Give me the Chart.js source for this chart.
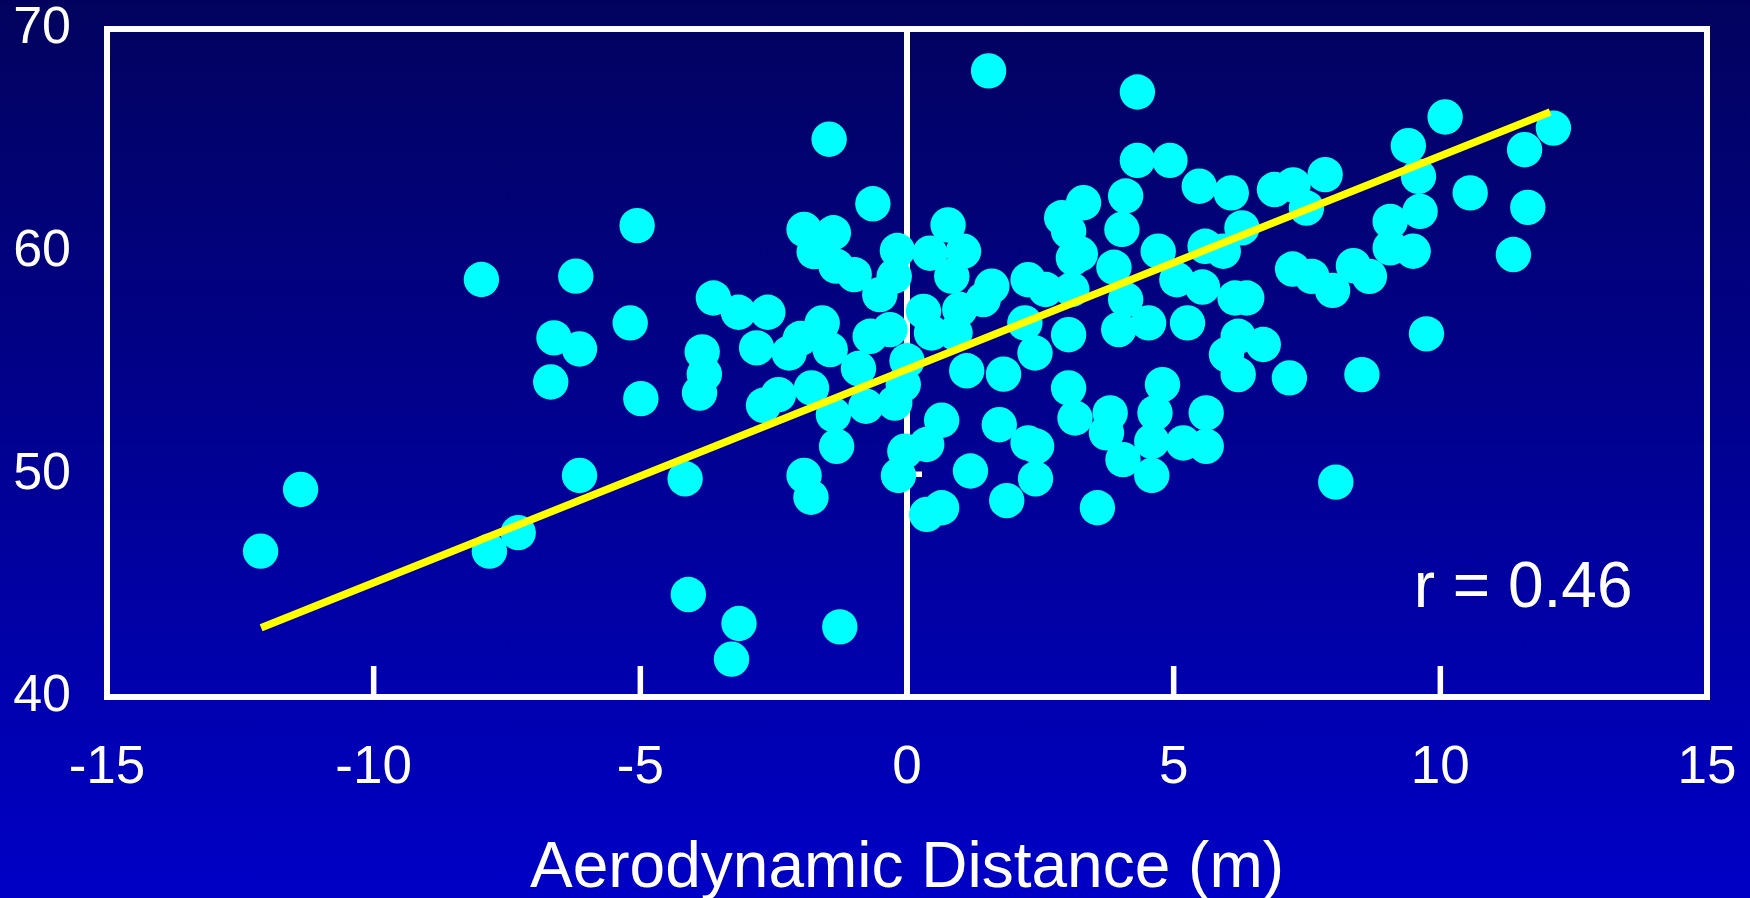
<!DOCTYPE html>
<html><head><meta charset="utf-8">
<script src="https://cdn.jsdelivr.net/npm/chart.js@4.4.0/dist/chart.umd.min.js"></script>
<style>
html,body{margin:0;padding:0;width:1750px;height:898px;overflow:hidden;background:linear-gradient(to bottom,#02025E 0%,#0000C6 100%);}
#wrap{position:relative;width:1750px;height:898px;}
canvas{display:block;}
</style></head><body><div id="wrap"><canvas id="c" width="1750" height="898"></canvas></div>
<script>
// Aerodynamic distance (m) of each point
const distanceX = [
 -12.12,-11.37,-7.98,-7.83,-7.29,-6.62,-6.68,-6.21,-6.14,-6.14,
 -5.19,-5.06,-4.99,-4.16,-4.10,-3.84,-3.80,-3.89,-3.63,-3.29,
 -3.15,-3.16,-2.82,-2.61,-2.69,-2.41,-2.21,-2.00,-1.93,-1.74,
 -1.93,-1.80,-1.79,-1.59,-1.46,-1.38,-1.44,-1.38,-1.32,-1.33,
 -1.26,-0.99,-0.91,-0.77,-0.64,-0.69,-0.51,-0.24,-0.32,-0.18,
 -0.23,-0.07,0.00,-0.16,-0.04,
 0.37,0.65,0.37,0.65,0.77,0.43,1.06,0.84,0.31,0.46,
 0.90,0.99,1.43,1.59,1.12,1.81,1.19,1.73,1.87,1.53,
 2.27,2.60,2.21,2.40,2.27,2.43,2.41,2.90,3.31,3.03,
 3.12,3.25,3.09,3.03,3.03,3.15,3.57,3.81,3.74,3.88,
 4.03,4.10,4.10,3.97,4.05,4.32,4.32,4.93,4.71,4.53,
 4.79,4.65,4.59,4.59,5.06,5.26,5.18,5.48,5.59,5.54,
 5.61,5.61,5.93,6.08,6.28,6.15,6.37,5.99,6.21,6.21,
 6.68,6.89,7.24,7.49,7.84,7.23,7.59,7.98,8.37,8.67,
 7.17,8.53,8.04,9.06,9.06,9.49,9.40,9.59,9.62,9.74,
 10.09,10.56,11.37,11.58,11.64,12.12
];
// Measured value of each point
const valueY = [
 46.55,49.32,58.75,46.55,47.38,56.13,54.15,58.90,55.63,49.95,
 56.80,61.17,53.40,49.80,44.60,55.50,54.50,53.65,57.92,41.70,
 43.30,57.28,55.68,57.28,53.10,53.58,55.45,56.10,61.00,60.00,
 49.95,48.97,53.88,56.80,65.05,60.85,55.60,52.68,51.26,59.35,
 43.15,58.97,54.75,53.06,62.15,56.20,58.07,58.90,56.50,60.05,
 53.20,54.03,55.10,49.95,51.04,
 51.34,52.43,48.20,48.50,61.20,59.93,60.02,58.90,57.32,56.35,
 56.35,57.40,57.85,58.45,54.65,54.50,50.15,52.23,48.82,68.12,
 58.74,58.30,56.80,55.45,51.41,51.26,49.80,61.52,62.20,60.92,
 59.72,59.90,58.30,56.27,53.88,52.53,48.50,52.76,51.86,59.30,
 61.00,62.50,57.85,56.50,50.66,67.17,64.10,64.10,60.02,56.80,
 54.03,52.76,51.48,49.95,58.74,56.80,51.41,62.94,60.24,58.41,
 52.76,51.26,60.02,62.64,61.07,57.92,57.92,55.38,56.20,54.48,
 55.83,62.79,63.00,61.96,63.46,59.22,58.89,58.26,59.37,58.89,
 54.33,54.48,49.65,61.36,60.17,60.02,64.76,63.38,61.81,56.31,
 66.05,62.64,59.87,64.58,61.99,65.55
];
// Regression line end points
const fitX = [-12.11, 12.06];
const fitY = [43.11, 66.27];
// Axis ranges / ticks
const xTickValues = [-15, -10, -5, 0, 5, 10, 15];
const yTickValues = [40, 50, 60, 70];
const xTitle = 'Aerodynamic Distance (m)';
const rLabel = 'r = 0.46';
const rLabelAt = [9.5, 44.05];
const zeroLineTicks = [50, 60];

const FONT = "'Liberation Sans', Arial, Helvetica, sans-serif";
const points = distanceX.map((x, i) => ({x, y: valueY[i]}));
const fitPoints = fitX.map((x, i) => ({x, y: fitY[i]}));

function noPad(s) { s.paddingTop = 0; s.paddingBottom = 0; s.paddingLeft = 0; s.paddingRight = 0; }

const decor = {
  id: 'decor',
  beforeDatasetsDraw(chart) {
    const {ctx, chartArea: a, scales: {x, y}} = chart;
    ctx.save();
    ctx.strokeStyle = '#ffffff';
    ctx.lineWidth = 6;
    ctx.lineCap = 'butt';
    ctx.strokeRect(a.left, a.top, a.right - a.left, a.bottom - a.top);
    ctx.beginPath();
    ctx.lineWidth = 5.5;
    xTickValues.forEach(v => {
      if (v === xTickValues[0] || v === xTickValues[xTickValues.length - 1] || v === 0) return;
      const px = x.getPixelForValue(v);
      ctx.moveTo(px, a.bottom);
      ctx.lineTo(px, a.bottom - 31);
    });
    const zx = x.getPixelForValue(0);
    zeroLineTicks.forEach(v => {
      const py = y.getPixelForValue(v);
      ctx.moveTo(zx, py);
      ctx.lineTo(zx + 15, py);
    });
    ctx.stroke();
    ctx.restore();
  },
  afterDatasetsDraw(chart) {
    const {ctx, scales: {x, y}} = chart;
    ctx.save();
    ctx.fillStyle = '#ffffff';
    ctx.font = '64px ' + FONT;
    ctx.textAlign = 'left';
    ctx.textBaseline = 'alphabetic';
    ctx.fillText(rLabel, x.getPixelForValue(rLabelAt[0]), y.getPixelForValue(rLabelAt[1]));
    ctx.restore();
  }
};

new Chart(document.getElementById('c'), {
  type: 'scatter',
  data: {
    datasets: [
      {
        type: 'line',
        data: fitPoints,
        borderColor: '#FFFF00',
        borderWidth: 7.5,
        borderCapStyle: 'butt',
        pointRadius: 0,
        fill: false,
        order: 0
      },
      {
        data: points,
        backgroundColor: '#00FFFF',
        borderWidth: 0,
        pointRadius: 17.7,
        pointHoverRadius: 17.7,
        order: 1
      }
    ]
  },
  options: {
    responsive: false,
    devicePixelRatio: 1,
    animation: false,
    events: [],
    layout: {padding: {top: 29, right: 43, left: 0, bottom: 0}},
    plugins: {legend: {display: false}, tooltip: {enabled: false}},
    scales: {
      x: {
        type: 'linear',
        min: -15, max: 15,
        afterFit: s => { s.height = 201; noPad(s); },
        afterBuildTicks: s => { s.ticks = xTickValues.map(v => ({value: v})); },
        ticks: {color: '#ffffff', font: {family: FONT, size: 53}, padding: 40, autoSkip: false, maxRotation: 0},
        grid: {
          display: true, drawTicks: false, drawOnChartArea: true,
          color: c => (c.tick && c.tick.value === 0) ? '#ffffff' : 'rgba(0,0,0,0)',
          lineWidth: 6
        },
        border: {display: false},
        title: {display: true, text: xTitle, color: '#ffffff', font: {family: FONT, size: 64, lineHeight: 1}, padding: {top: 0, bottom: -3}}
      },
      y: {
        type: 'linear',
        min: 40, max: 70,
        afterFit: s => { s.width = 107; noPad(s); },
        afterBuildTicks: s => { s.ticks = yTickValues.map(v => ({value: v})); },
        ticks: {color: '#ffffff', font: {family: FONT, size: 52}, padding: 36},
        grid: {display: false, drawTicks: false},
        border: {display: false}
      }
    }
  },
  plugins: [decor]
});
</script></body></html>
